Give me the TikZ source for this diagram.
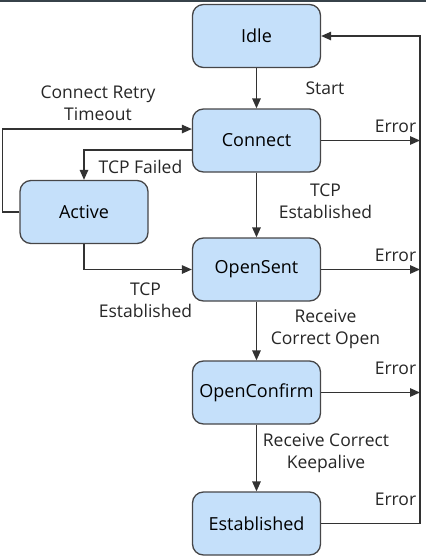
\documentclass[tikz,border=0pt]{standalone}
\usepackage{fontspec}
\setmainfont{Open Sans}
\usetikzlibrary{positioning,arrows.meta}
\definecolor{statefill}{RGB}{197,224,250}
\definecolor{stateline}{RGB}{70,70,72}
\definecolor{wirecol}{RGB}{50,50,50}
\definecolor{topbar}{RGB}{55,66,74}

\begin{document}
\begin{tikzpicture}[x=1pt,y=-1pt,
  state/.style={rectangle,rounded corners=11pt,draw=stateline,line width=1.3pt,fill=statefill,
    minimum width=128pt,minimum height=63pt,inner sep=0pt,font=\fontsize{18}{21}\selectfont},
  lbl/.style={font=\fontsize{17.5}{22}\selectfont,align=center,text=black!85},
  wire/.style={draw=wirecol,line width=1.3pt},
  >={Triangle[length=10pt,width=8.5pt]}]
\useasboundingbox (0,0) rectangle (426,558);
\fill[topbar] (0,0) rectangle (426,2);

% states
\node[state] (idle) at (256.5,36) {Idle};
\node[state] (connect) at (256.5,140.5) {Connect};
\node[state] (active) at (84,212) {Active};
\node[state] (opensent) at (256.5,269.5) {OpenSent};
\node[state] (openconfirm) at (256.5,392.5) {OpenConfirm};
\node[state] (established) at (256.5,523.5) {Established};
\coordinate (errbus) at (420,36);

% transitions
\draw[wire,->] (idle) -- (connect);
\draw[wire,->] (connect) -- (opensent);
\draw[wire,->] (opensent) -- (openconfirm);
\draw[wire,->] (openconfirm) -- (established);
\draw[wire,->] ([yshift=-9.5pt]connect.west) -| (active.north);
\draw[wire,->] (active.west) -- ++(-17,0) |- ([yshift=11.5pt]connect.west);
\draw[wire,->] (active.south) |- (opensent.west);
\foreach \s in {connect,opensent,openconfirm} {
    \draw[wire,->] (\s.east) -- (\s.east -| errbus);
}
\draw[wire,->] (established.east) -| (errbus) -- (idle.east);

% labels
\node at (325,88) [lbl] {Start};
\node at (98,103) [lbl] {Connect Retry\\Timeout};
\node at (140.5,167) [lbl] {TCP Failed};
\node at (325.5,201) [lbl] {TCP\\Established};
\node at (145.5,300) [lbl] {TCP\\Established};
\node at (325.5,329.5) [lbl] {Receive\\Correct Open};
\node at (326,453.5) [lbl] {Receive Correct\\Keepalive};
\foreach \y in {126,255,368.5,499} {
    \node at (395.5,\y) [lbl] {Error};
}
\end{tikzpicture}
\end{document}
